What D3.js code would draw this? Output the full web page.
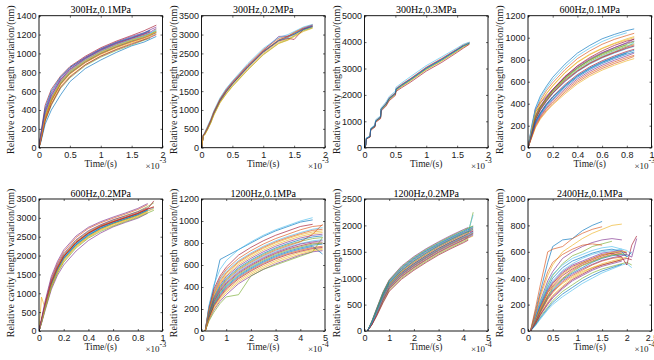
<!DOCTYPE html>
<html>
<head>
<meta charset="utf-8">
<script src="https://cdn.jsdelivr.net/npm/d3@7"></script>
<style>
  body { margin: 0; background: #fff; }
  svg { display: block; font-family: "Liberation Serif", "Times New Roman", serif; }
  .tick text { font-size: 9px; fill: #1a1a1a; }
  .tick line { stroke: #000; stroke-width: 0.6; }
</style>
</head>
<body>
<div id="chart"></div>
<script>
// panel meta
const titles = ["300Hz,0.1MPa", "300Hz,0.2MPa", "300Hz,0.3MPa", "600Hz,0.1MPa",
                "600Hz,0.2MPa", "1200Hz,0.1MPa", "1200Hz,0.2MPa", "2400Hz,0.1MPa"];
const xMax = [2, 2, 2, 1, 1, 5, 5, 2.5];
const yMax = [1400, 3500, 5000, 1200, 3500, 1200, 2500, 1000];
const xTickVals = [
  [0, 0.5, 1, 1.5, 2], [0, 0.5, 1, 1.5, 2], [0, 0.5, 1, 1.5, 2], [0, 0.2, 0.4, 0.6, 0.8, 1],
  [0, 0.2, 0.4, 0.6, 0.8, 1], [0, 1, 2, 3, 4, 5], [0, 1, 2, 3, 4, 5], [0, 0.5, 1, 1.5, 2, 2.5]
];
const yStep = [200, 500, 1000, 200, 500, 200, 500, 200];
const xExp = ["-3", "-3", "-3", "-3", "-3", "-4", "-4", "-4"];
const xLabel = "Time/(s)";
const yLabel = "Relative cavity length variarion/(nm)";

// 300Hz,0.1MPa
const p1X = [0, 0.03, 0.1, 0.2, 0.35, 0.5, 0.75, 1, 1.25, 1.5, 1.7, 1.8, 1.9];
const p1Y = [
  [0, 90, 320, 500, 680, 790, 910, 1000, 1070, 1130, 1170, 1190, 1220],
  [0, 110, 350, 530, 710, 820, 940, 1030, 1100, 1160, 1200, 1230],
  [0, 80, 300, 470, 650, 760, 880, 975, 1045, 1110, 1150, 1180, 1210],
  [0, 130, 400, 580, 740, 850, 960, 1050, 1120, 1180, 1220, 1250, 1280],
  [0, 70, 280, 450, 630, 740, 870, 960, 1030, 1090, 1140, 1160],
  [0, 100, 340, 510, 690, 800, 925, 1015, 1085, 1145, 1190, 1215, 1240],
  [0, 150, 450, 620, 760, 860, 970, 1060, 1130, 1190, 1240, 1270, 1300],
  [0, 60, 250, 400, 560, 700, 840, 930, 1010, 1080, 1120, 1150, 1180],
  [0, 95, 330, 520, 700, 810, 930, 1020, 1090, 1150, 1190, 1210],
  [0, 85, 310, 490, 670, 780, 900, 990, 1060, 1120, 1160, 1190, 1260],
  [0, 120, 370, 550, 720, 830, 945, 1040, 1110, 1165, 1210, 1240],
  [0, 105, 345, 505, 685, 795, 915, 1005, 1075, 1135, 1180, 1205, 1235],
  [0, 115, 360, 540, 705, 815, 935, 1025, 1095, 1150, 1185, 1215, 1250],
  [0, 75, 290, 460, 640, 750, 880, 970, 1040, 1100, 1145, 1170, 1200],
  [0, 140, 420, 600, 750, 850, 955, 1045, 1115, 1170, 1215, 1245],
  [0, 88, 315, 495, 675, 785, 905, 995, 1065, 1125, 1165, 1195, 1225],
  [0, 98, 335, 515, 695, 805, 920, 1010, 1080, 1140, 1175, 1200, 1230],
  [0, 125, 380, 560, 725, 835, 950, 1035, 1105, 1160, 1205, 1225, 1265]
];

// 300Hz,0.2MPa
const p2X = [0, 0.03, 0.05, 0.1, 0.15, 0.2, 0.3, 0.4, 0.5, 0.75, 1, 1.25, 1.4, 1.5, 1.65, 1.8];
const p2Y = [
  [0, 330, 360, 520, 700, 920, 1260, 1500, 1700, 2150, 2550, 2850, 2950, 3030, 3150, 3230],
  [0, 320, 380, 560, 740, 960, 1300, 1550, 1750, 2200, 2600, 2900, 2960, 3060, 3180, 3260],
  [0, 340, 350, 500, 680, 890, 1220, 1460, 1660, 2100, 2500, 2800, 2880, 2980, 3120, 3200],
  [0, 330, 370, 540, 720, 940, 1280, 1530, 1730, 2180, 2570, 2950, 2960, 3000, 3160, 3250],
  [0, 310, 340, 490, 660, 870, 1200, 1430, 1630, 2070, 2470, 2770, 2860, 2960, 3100, 3180],
  [0, 350, 400, 580, 760, 980, 1320, 1570, 1770, 2230, 2630, 2920, 3000, 3080, 3200, 3270],
  [0, 330, 360, 510, 690, 910, 1240, 1480, 1690, 2130, 2530, 2830, 2900, 2870, 3140, 3220],
  [0, 320, 355, 515, 695, 915, 1250, 1490, 1690, 2140, 2540, 2840, 2920, 3010, 3130, 3210],
  [0, 340, 375, 545, 725, 945, 1275, 1515, 1715, 2165, 2560, 2860, 2940, 3040, 3170],
  [0, 300, 330, 480, 650, 860, 1190, 1420, 1620, 2060, 2460, 2760, 2850, 2940, 3080, 3170]
];

// 300Hz,0.3MPa
const p3X = [0, 0.02, 0.03, 0.09, 0.1, 0.17, 0.18, 0.26, 0.27, 0.35, 0.4, 0.5, 0.51, 0.6, 0.75, 1, 1.25, 1.5, 1.6, 1.7];
const p3Y = [
  [0, 100, 350, 420, 700, 820, 1000, 1150, 1450, 1650, 1850, 2050, 2200, 2350, 2580, 3000, 3330, 3700, 3850, 3970],
  [0, 110, 360, 430, 720, 840, 1030, 1180, 1480, 1690, 1890, 2090, 2240, 2400, 2630, 3050, 3380, 3740, 3890, 3990],
  [0, 90, 340, 410, 680, 800, 980, 1120, 1420, 1610, 1810, 2010, 2160, 2310, 2540, 2950, 3280, 3650, 3800, 3930],
  [0, 100, 350, 425, 710, 830, 1010, 1160, 1460, 1670, 1870, 2070, 2220, 2380, 2610, 3030, 3360, 3720, 3870],
  [0, 95, 345, 415, 690, 810, 990, 1140, 1440, 1630, 1830, 2030, 2180, 2330, 2560, 2970, 3300, 3670, 3830, 3950],
  [0, 120, 370, 440, 740, 870, 1060, 1210, 1510, 1740, 1940, 2140, 2290, 2450, 2700, 3110, 3440, 3780, 3920, 4000],
  [0, 85, 330, 400, 660, 780, 960, 1100, 1390, 1580, 1780, 1980, 2130, 2270, 2490, 2900, 3230, 3610, 3770, 3920],
  [0, 105, 355, 428, 705, 825, 1005, 1155, 1455, 1660, 1860, 2060, 2210, 2370, 2600, 3010, 3340, 3710, 3860, 3960]
];

// 600Hz,0.1MPa
const p4X = [0, 0.03, 0.06, 0.1, 0.15, 0.2, 0.3, 0.4, 0.5, 0.6, 0.7, 0.8, 0.86];
const p4Y = [
  [0, 200, 360, 470, 560, 640, 760, 860, 930, 990, 1030, 1065, 1080],
  [0, 180, 330, 430, 520, 590, 710, 810, 880, 940, 985, 1020, 1040],
  [0, 160, 300, 400, 490, 560, 680, 775, 845, 900, 945, 980, 1000],
  [0, 150, 290, 380, 460, 530, 650, 740, 810, 865, 910, 950, 970],
  [0, 140, 270, 360, 440, 510, 625, 715, 785, 840, 885, 925, 945],
  [0, 130, 250, 340, 420, 490, 600, 690, 760, 815, 860, 900, 920],
  [0, 120, 240, 320, 400, 465, 575, 665, 735, 790, 835, 875, 895],
  [0, 110, 220, 300, 380, 440, 550, 640, 710, 765, 810, 850, 870],
  [0, 100, 200, 280, 355, 415, 520, 610, 680, 735, 780, 820, 840],
  [0, 90, 180, 260, 330, 390, 490, 580, 650, 705, 750, 790, 810],
  [0, 170, 350, 410, 470, 530, 640, 730, 800, 860, 910, 955, 990],
  [0, 145, 330, 370, 450, 520, 635, 725, 800, 855, 900, 935],
  [0, 125, 260, 350, 430, 500, 615, 705, 775, 830, 875, 915, 960],
  [0, 155, 280, 370, 455, 525, 645, 745, 820, 880, 930, 970, 985],
  [0, 115, 230, 310, 390, 455, 560, 650, 720, 775, 820, 860],
  [0, 135, 265, 355, 435, 500, 615, 700, 770, 825, 870, 915, 935],
  [0, 165, 315, 410, 495, 565, 685, 780, 850, 905, 950, 990, 1010],
  [0, 105, 210, 290, 365, 430, 535, 625, 695, 750, 795, 835, 860],
  [0, 145, 275, 365, 445, 515, 630, 725, 795, 850, 895, 940, 965],
  [0, 190, 345, 450, 540, 615, 735, 835, 905, 965, 1010, 1045],
  [0, 128, 255, 345, 425, 495, 605, 695, 765, 820, 865, 905, 925],
  [0, 118, 235, 315, 395, 460, 565, 655, 725, 780, 825, 865, 885],
  [0, 95, 190, 270, 340, 400, 505, 595, 665, 720, 765, 805, 830]
];

// 600Hz,0.2MPa
const p5X = [0, 0.02, 0.05, 0.1, 0.15, 0.2, 0.3, 0.4, 0.5, 0.6, 0.7, 0.8, 0.88, 0.93];
const p5Y = [
  [0, 250, 650, 1250, 1650, 1950, 2320, 2570, 2750, 2880, 2990, 3100, 3220],
  [0, 300, 750, 1400, 1800, 2100, 2480, 2720, 2870, 2990, 3100, 3220, 3350],
  [0, 900, 600, 1150, 1550, 1850, 2230, 2480, 2670, 2800, 2920, 3030, 3150],
  [0, 200, 550, 1100, 1480, 1750, 2120, 2400, 2600, 2760, 2880, 2990, 3120],
  [0, 280, 700, 1320, 1720, 2020, 2400, 2640, 2810, 2940, 3060, 3170, 3300, 3400],
  [0, 230, 620, 1200, 1600, 1900, 2270, 2520, 2710, 2850, 2960, 3070, 3190, 3260],
  [0, 260, 680, 1280, 1680, 1980, 2350, 2600, 2780, 2900, 3010, 3120, 3240, 3450],
  [0, 240, 640, 1230, 1630, 1930, 2300, 2550, 2730, 2860, 2970, 3085, 3210],
  [0, 270, 660, 1270, 1670, 1970, 2340, 2590, 2760, 2890, 3000, 3110, 3230, 3300],
  [0, 220, 600, 1180, 1580, 1880, 2250, 2500, 2690, 2830, 2940, 3050, 3170],
  [0, 290, 720, 1350, 1760, 2050, 2420, 2660, 2820, 2950, 3050, 3160, 3270],
  [0, 210, 580, 1150, 1530, 1820, 2200, 2460, 2640, 2780, 2900, 3010, 3130, 3200],
  [0, 245, 645, 1240, 1640, 1940, 2310, 2560, 2740, 2870, 2980, 3090, 3215],
  [0, 265, 670, 1275, 1675, 1975, 2345, 2595, 2770, 2895, 3005, 3115, 3235, 3280],
  [0, 235, 630, 1215, 1615, 1915, 2285, 2535, 2720, 2855, 2965, 3075, 3200],
  [0, 275, 690, 1300, 1700, 2000, 2370, 2615, 2790, 2915, 3025, 3135, 3255],
  [0, 225, 610, 1190, 1590, 1890, 2260, 2510, 2700, 2840, 2950, 3060, 3180, 3240],
  [0, 320, 800, 1450, 1850, 2150, 2520, 2750, 2900, 3020, 3130, 3250, 3380]
];

// 1200Hz,0.1MPa
const p6X = [0.15, 0.3, 0.5, 0.75, 1, 1.5, 2, 2.5, 3, 3.5, 4, 4.5, 4.9];
const p6Y = [
  [0, 220, 400, 650, 680, 740, 800, 860, 910, 950, 990, 1010],
  [0, 200, 360, 480, 560, 660, 730, 790, 840, 880, 920, 950, 960],
  [0, 180, 330, 440, 520, 620, 690, 750, 800, 840, 875, 900, 910],
  [0, 170, 310, 420, 495, 590, 660, 720, 770, 810, 845, 870, 880],
  [0, 160, 290, 395, 470, 565, 635, 695, 745, 785, 815, 840, 850],
  [0, 150, 280, 380, 450, 545, 615, 675, 725, 765, 795, 820, 830],
  [0, 140, 265, 360, 430, 525, 595, 655, 705, 745, 775, 800, 800],
  [0, 130, 250, 340, 410, 505, 575, 635, 685, 725, 755, 780, 790],
  [0, 120, 235, 320, 390, 485, 555, 615, 665, 705, 735, 760, 770],
  [0, 110, 215, 300, 365, 460, 530, 590, 640, 680, 715, 740, 750],
  [0, 100, 190, 270, 330, 430, 500, 560, 610, 650, 690, 720, 730],
  [0, 90, 170, 250, 310, 330, 500, 560, 600, 640, 680, 720, 850],
  [0, 190, 350, 470, 545, 640, 710, 770, 820, 860, 895, 925, 940],
  [0, 210, 380, 500, 580, 690, 760, 820, 870, 910, 950, 970],
  [0, 125, 240, 330, 400, 495, 565, 625, 675, 715, 745, 770, 700],
  [0, 155, 285, 385, 460, 555, 625, 685, 735, 775, 810, 880, 970],
  [0, 175, 320, 430, 505, 605, 675, 735, 785, 825, 860, 885, 895],
  [0, 145, 270, 370, 440, 535, 605, 665, 715, 755, 790, 810, 820],
  [0, 135, 255, 350, 420, 515, 585, 645, 695, 735, 765, 790, 800],
  [0, 230, 420, 560, 640, 740, 810, 870, 920, 960, 1000, 1030],
  [0, 115, 225, 310, 380, 475, 545, 605, 655, 695, 725, 750, 760],
  [0, 165, 300, 405, 480, 575, 645, 705, 755, 795, 830, 855, 865],
  [0, 195, 340, 455, 530, 630, 700, 760, 810, 850, 885, 915, 925],
  [0, 105, 200, 285, 350, 445, 515, 575, 625, 665, 700, 730, 740]
];

// 1200Hz,0.2MPa
const p7X = [0.12, 0.3, 0.5, 0.75, 1, 1.5, 2, 2.5, 3, 3.5, 4, 4.2, 4.4];
const p7Y = [
  [0, 180, 420, 720, 950, 1200, 1380, 1530, 1660, 1780, 1890, 1940, 1980],
  [0, 170, 400, 690, 920, 1170, 1350, 1500, 1630, 1750, 1860, 1900, 1950],
  [0, 160, 390, 670, 900, 1140, 1320, 1470, 1610, 1730, 1840, 1880, 1920],
  [0, 155, 380, 660, 885, 1125, 1300, 1450, 1590, 1710, 1820, 1870, 1900],
  [0, 150, 370, 650, 870, 1110, 1280, 1430, 1570, 1690, 1800, 1850, 2250],
  [0, 145, 360, 635, 855, 1095, 1265, 1415, 1555, 1675, 1785, 1830, 1880],
  [0, 140, 350, 620, 840, 1080, 1250, 1400, 1540, 1660, 1770, 1810, 1860],
  [0, 135, 340, 605, 825, 1060, 1230, 1380, 1520, 1640, 1750, 1790, 1840],
  [0, 130, 330, 590, 810, 1040, 1210, 1360, 1500, 1620, 1730, 1780],
  [0, 125, 320, 575, 790, 1020, 1190, 1340, 1480, 1600, 1710, 1760, 1800],
  [0, 190, 440, 740, 970, 1230, 1410, 1560, 1690, 1810, 1920, 1960],
  [0, 120, 300, 550, 770, 1000, 1170, 1320, 1460, 1580, 1690, 1740],
  [0, 165, 395, 680, 910, 1155, 1335, 1485, 1620, 1740, 1850, 1890, 2200],
  [0, 148, 365, 642, 862, 1100, 1272, 1422, 1562, 1682, 1792, 1840, 1890],
  [0, 175, 410, 705, 935, 1185, 1365, 1515, 1645, 1765, 1875, 1920, 1960],
  [0, 138, 345, 612, 832, 1070, 1240, 1390, 1530, 1650, 1760, 1800, 1850],
  [0, 158, 385, 665, 892, 1132, 1310, 1460, 1600, 1720, 1830, 1875],
  [0, 128, 325, 582, 800, 1030, 1200, 1350, 1490, 1610, 1720, 1770, 1820],
  [0, 185, 430, 730, 960, 1215, 1395, 1545, 1675, 1795, 1905, 1950, 1990],
  [0, 143, 355, 628, 848, 1088, 1258, 1408, 1548, 1668, 1778, 1820, 1870],
  [0, 118, 290, 535, 750, 980, 1150, 1300, 1440, 1560, 1670, 1720],
  [0, 162, 392, 675, 905, 1148, 1328, 1478, 1615, 1735, 1845, 1885, 1930]
];

// 2400Hz,0.1MPa
const p8X = [0.05, 0.15, 0.25, 0.4, 0.5, 0.7, 0.9, 1.1, 1.3, 1.5, 1.7, 1.9, 2.0, 2.1, 2.2];
const p8Y = [
  [0, 150, 300, 520, 640, 690, 700, 760, 800, 830],
  [0, 170, 350, 600, 620, 640, 700, 740, 770, 790],
  [0, 120, 260, 420, 500, 600, 650, 700, 740, 770, 800, 810],
  [0, 110, 230, 380, 450, 550, 600, 640, 670, 690, 700, 690],
  [0, 100, 210, 350, 420, 510, 570, 600, 640, 660, 680],
  [0, 90, 190, 320, 380, 460, 510, 550, 580, 600, 610, 620, 610, 580],
  [0, 80, 170, 290, 340, 420, 470, 510, 540, 570, 590, 600, 590],
  [0, 70, 150, 260, 310, 390, 440, 480, 520, 550, 570, 580, 570],
  [0, 65, 140, 240, 290, 370, 420, 460, 500, 530, 550, 560],
  [0, 60, 130, 220, 270, 340, 400, 440, 480, 510, 530, 550, 560],
  [0, 55, 120, 200, 250, 320, 380, 420, 460, 490, 510, 530],
  [0, 50, 110, 180, 230, 300, 350, 400, 440, 470, 490, 510, 520, 500],
  [0, 40, 90, 160, 200, 260, 310, 360, 400, 440, 470, 500, 510, 480],
  [0, 85, 180, 300, 360, 440, 490, 520, 550, 580, 590, 560, 500, 650, 720],
  [0, 95, 200, 330, 400, 480, 530, 560, 590, 610, 620, 600, 560, 600],
  [0, 75, 160, 270, 330, 400, 460, 500, 530, 560, 580, 590],
  [0, 60, 140, 250, 300, 360, 410, 450, 480, 500, 520, 540],
  [0, 88, 185, 310, 370, 450, 500, 530, 560, 590, 600, 610, 590],
  [0, 72, 155, 265, 320, 395, 450, 495, 525, 555, 575, 585, 580],
  [0, 105, 220, 360, 430, 500, 550, 580, 610, 630, 640, 620],
  [0, 58, 125, 210, 260, 330, 390, 430, 470, 500, 520, 540, 550, 540],
  [0, 45, 100, 170, 215, 280, 330, 380, 420, 455, 480, 505],
  [0, 130, 280, 450, 520, 580, 620, 650, 660, 650],
  [0, 82, 175, 295, 350, 430, 480, 515, 545, 575, 595, 605, 600],
  [0, 68, 145, 250, 300, 380, 430, 470, 505, 535, 555, 570, 580, 560, 700]
];

const gridsX = [p1X, p2X, p3X, p4X, p5X, p6X, p7X, p8X];
const seriesY = [p1Y, p2Y, p3Y, p4Y, p5Y, p6Y, p7Y, p8Y];

// MATLAB default line colours
const COLORS = ["#0072BD", "#D95319", "#EDB120", "#7E2F8E", "#77AC30", "#4DBEEE", "#A2142F"];

const W = 654, H = 360;
const LEFTS = [39, 201.5, 364.5, 528];
const TOPS = [15.7, 199];
const PW = 123.5, PH = 132;

const svg = d3.select("#chart").append("svg")
  .attr("width", W).attr("height", H)
  .attr("viewBox", `0 0 ${W} ${H}`);
svg.append("rect").attr("width", W).attr("height", H).attr("fill", "#fff");

titles.forEach((title, i) => {
  const left = LEFTS[i % 4], top = TOPS[Math.floor(i / 4)];
  const g = svg.append("g").attr("transform", `translate(${left},${top})`);

  const x = d3.scaleLinear().domain([0, xMax[i]]).range([0, PW]);
  const y = d3.scaleLinear().domain([0, yMax[i]]).range([PH, 0]);
  const yTicks = d3.range(0, yMax[i] + 1, yStep[i]);

  g.append("clipPath").attr("id", `clip${i}`)
    .append("rect").attr("width", PW).attr("height", PH);

  // lines
  const line = d3.line().x(d => x(d[0])).y(d => y(d[1]));
  const lg = g.append("g").attr("clip-path", `url(#clip${i})`);
  seriesY[i].forEach((ys, k) => {
    const pts = ys.map((v, j) => [gridsX[i][j], v]);
    lg.append("path")
      .attr("d", line(pts))
      .attr("fill", "none")
      .attr("stroke", COLORS[k % COLORS.length])
      .attr("stroke-width", 0.65)
      .attr("stroke-linejoin", "round");
  });

  // axes, ticks pointing inward on all sides
  const fmt = d => String(d);
  g.append("g").attr("transform", `translate(0,${PH})`)
    .call(d3.axisBottom(x).tickValues(xTickVals[i]).tickFormat(fmt).tickSizeInner(-2).tickSizeOuter(0).tickPadding(4))
    .call(a => a.select(".domain").remove());
  g.append("g")
    .call(d3.axisLeft(y).tickValues(yTicks).tickFormat(fmt).tickSizeInner(-2).tickSizeOuter(0).tickPadding(2.5))
    .call(a => a.select(".domain").remove());
  g.append("g")
    .call(d3.axisTop(x).tickValues(xTickVals[i]).tickFormat("").tickSizeInner(-2).tickSizeOuter(0))
    .call(a => a.select(".domain").remove());
  g.append("g").attr("transform", `translate(${PW},0)`)
    .call(d3.axisRight(y).tickValues(yTicks).tickFormat("").tickSizeInner(-2).tickSizeOuter(0))
    .call(a => a.select(".domain").remove());

  g.append("rect").attr("width", PW).attr("height", PH)
    .attr("fill", "none").attr("stroke", "#000").attr("stroke-width", 0.9);

  // title
  g.append("text")
    .attr("x", PW / 2).attr("y", -2.5)
    .attr("text-anchor", "middle")
    .style("font-size", "10px")
    .attr("fill", "#000")
    .text(title);

  // x label
  g.append("text")
    .attr("x", PW / 2).attr("y", PH + 19)
    .attr("text-anchor", "middle")
    .style("font-size", "9.5px")
    .attr("fill", "#1a1a1a")
    .text(xLabel);

  // x exponent
  g.append("text")
    .attr("x", PW - 3).attr("y", PH + 21)
    .attr("text-anchor", "end")
    .style("font-size", "9px")
    .attr("fill", "#1a1a1a")
    .text("\u00d710");
  g.append("text")
    .attr("x", PW - 3).attr("y", PH + 15.5)
    .style("font-size", "8px")
    .attr("fill", "#1a1a1a")
    .text(xExp[i]);

  // y label
  g.append("text")
    .attr("transform", `translate(-25,${PH / 2 - 2}) rotate(-90)`)
    .attr("text-anchor", "middle")
    .style("font-size", "10px")
    .attr("fill", "#1a1a1a")
    .text(yLabel);
});
</script>
</body>
</html>
